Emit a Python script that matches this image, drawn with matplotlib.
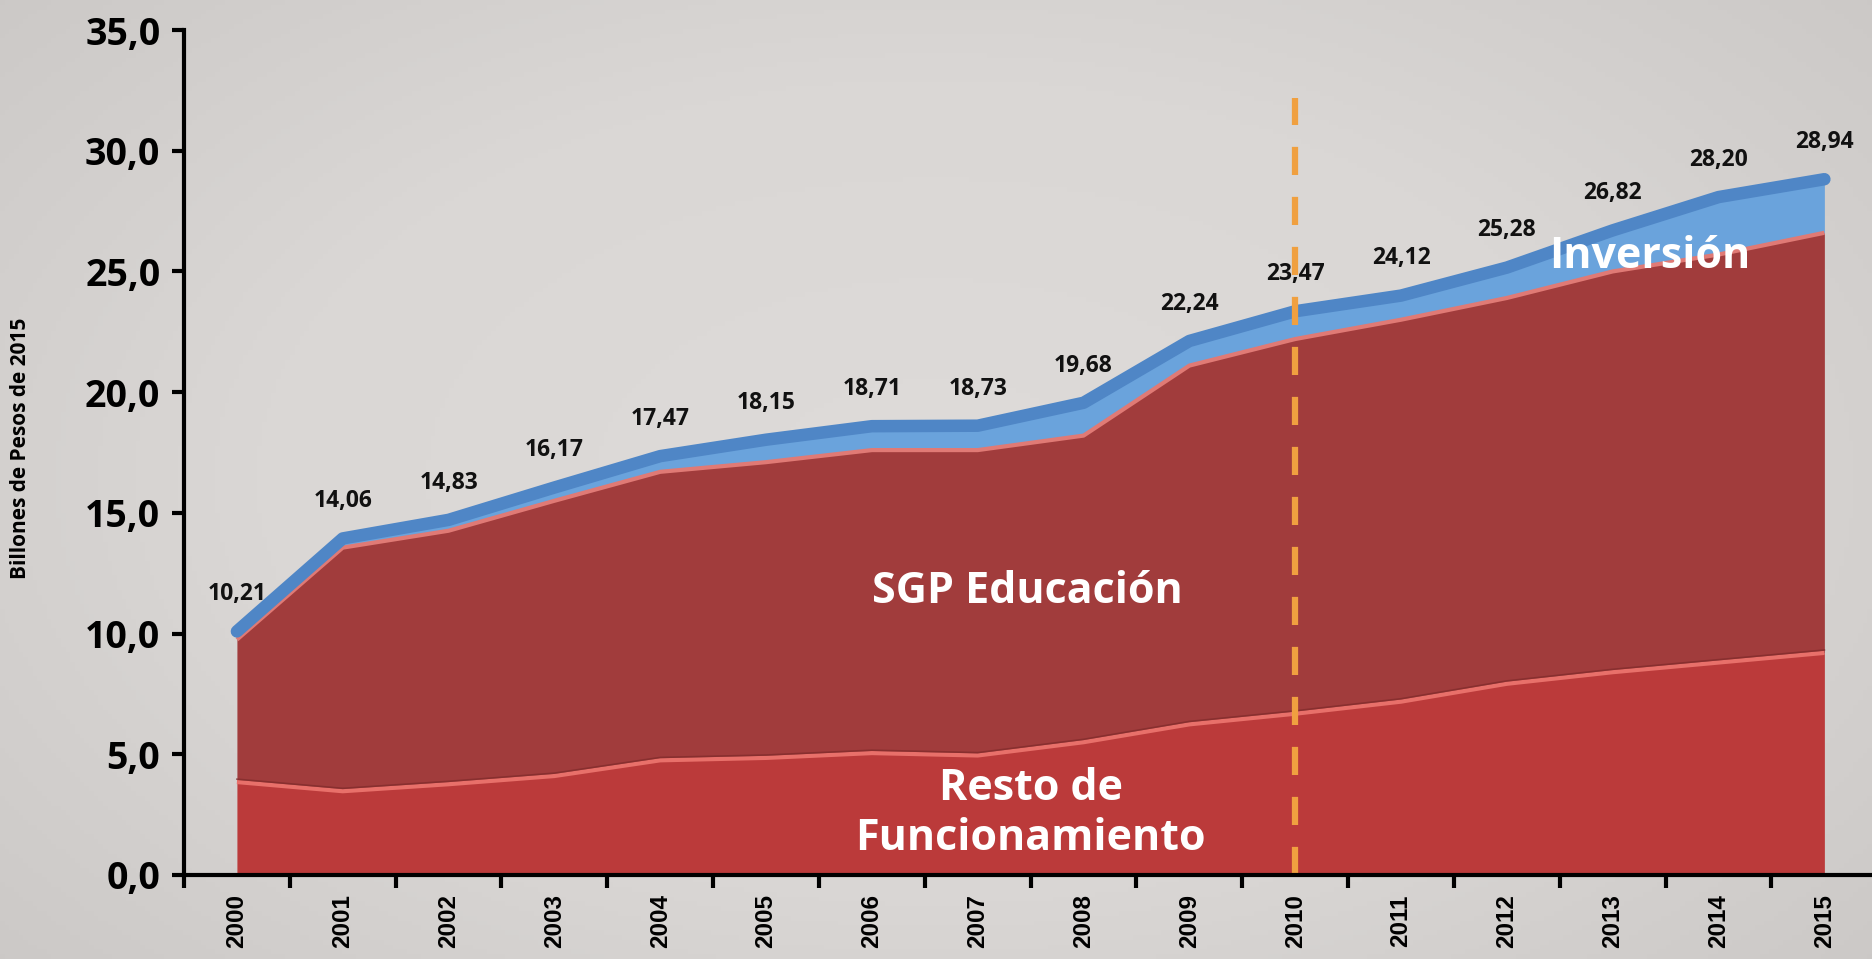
import matplotlib
matplotlib.use("Agg")
import matplotlib.pyplot as plt
import numpy as np

years = ["2000", "2001", "2002", "2003", "2004", "2005", "2006", "2007",
         "2008", "2009", "2010", "2011", "2012", "2013", "2014", "2015"]
totals = [10.21, 14.06, 14.83, 16.17, 17.47, 18.15, 18.71, 18.73,
          19.68, 22.24, 23.47, 24.12, 25.28, 26.82, 28.20, 28.94]
resto = [3.85, 3.47, 3.76, 4.10, 4.75, 4.85, 5.05, 4.95,
         5.50, 6.24, 6.68, 7.18, 7.92, 8.40, 8.80, 9.20]
sgp = [5.90, 10.09, 10.50, 11.40, 11.95, 12.25, 12.55, 12.65,
       12.70, 14.86, 15.52, 15.82, 15.98, 16.60, 16.90, 17.40]
inversion = [t - r - s for t, r, s in zip(totals, resto, sgp)]

y_ticks = [0, 5, 10, 15, 20, 25, 30, 35]
y_ticklabels = ["0,0", "5,0", "10,0", "15,0", "20,0", "25,0", "30,0", "35,0"]
marker_year = "2010"
marker_top = 32.2

W, H = 1872, 959
fig = plt.figure(figsize=(W / 100, H / 100), dpi=100)
bg = "#d9d6d4"
fig.patch.set_facecolor(bg)

# subtle vignette background
bgax = fig.add_axes([0, 0, 1, 1])
yy, xx = np.mgrid[-1:1:200j, -1:1:400j]
r = np.sqrt(xx ** 2 * 0.8 + yy ** 2 * 0.6)
bgax.imshow(r, cmap=matplotlib.colors.LinearSegmentedColormap.from_list(
    "v", ["#dedbd9", "#dad7d5", "#c9c6c4"]), aspect="auto", vmin=0, vmax=1.3,
    extent=[0, 1, 0, 1])
bgax.axis("off")

left = 184 / W
bottom = (H - 875) / H
top = (H - 30) / H
ax = fig.add_axes([left, bottom, 1 - left, top - bottom])
ax.set_facecolor("none")

x = np.arange(len(years))
s1 = np.array(resto)
s2 = s1 + np.array(sgp)
s3 = s2 + np.array(inversion)

ax.fill_between(x, 0, s1, color="#bb3a3a", lw=0, zorder=2)
ax.fill_between(x, s1, s2, color="#a13c3c", lw=0, zorder=2)
ax.fill_between(x, s2, s3, color="#6aa3dc", lw=0, zorder=2)
# highlight edges
ax.plot(x, s1, color="#e8706a", lw=3, zorder=3, solid_capstyle="butt")
ax.plot(x, s1 + 0.12, color="#7e2a2a", lw=1.2, zorder=3, alpha=0.7)
ax.plot(x, s2, color="#e07a75", lw=3, zorder=3, solid_capstyle="butt")
ax.plot(x, s3 - 0.12, color="#4f86c6", lw=9, zorder=4, solid_capstyle="round",
        solid_joinstyle="round")

# vertical dashed marker
xi = years.index(marker_year)
ax.plot([xi, xi], [0, marker_top], color="#f0a040", lw=4.5,
        dashes=(4.5, 3.5), zorder=5, solid_capstyle="butt")

lab_font = ["Open Sans", "DejaVu Sans"]
for xv, t in zip(x, totals):
    ax.annotate(f"{t:.2f}".replace(".", ","), (xv, t), xytext=(0, 16),
                textcoords="offset points", ha="center", va="bottom",
                fontsize=16.5, fontweight="bold", family=lab_font, color="#111111",
                zorder=6)

ax.text(7.47, 11.75, "SGP Educación", color="white", fontsize=31,
        fontweight="bold", family=lab_font, ha="center", va="center", zorder=6)
ax.text(13.35, 25.6, "Inversión", color="white", fontsize=31,
        fontweight="bold", family=lab_font, ha="center", va="center", zorder=6)
ax.text(7.5, 2.55, "Resto de\nFuncionamiento", color="white", fontsize=31,
        fontweight="bold", family=lab_font, ha="center", va="center",
        linespacing=1.2, zorder=6)

ax.set_xlim(-0.5, 15.45)
ax.set_ylim(0, 35)
ax.set_yticks(y_ticks)
ax.set_yticklabels(y_ticklabels, fontsize=27, fontweight="bold", family=lab_font)
ax.set_xticks(x)
ax.set_xticklabels(years, rotation=90, fontsize=17.5, fontweight="bold",
                   family=["Liberation Sans Narrow", "Liberation Sans", "DejaVu Sans"],
                   va="top")
ax.set_xticks(np.arange(-0.5, 15.5, 1), minor=True)
ax.tick_params(axis="x", which="major", length=0, pad=14)
ax.tick_params(axis="x", which="minor", length=9, width=3, direction="out")
ax.tick_params(axis="y", length=9, width=3, direction="out", pad=8)

for s in ["top", "right"]:
    ax.spines[s].set_visible(False)
for s in ["left", "bottom"]:
    ax.spines[s].set_linewidth(3)
    ax.spines[s].set_zorder(7)

fig.text(21 / W, (H - 448) / H, "Billones de Pesos de 2015", rotation=90,
         ha="center", va="center", fontsize=15, fontweight="bold",
         family=lab_font)

fig.savefig("out.png", dpi=100, facecolor=fig.get_facecolor())
